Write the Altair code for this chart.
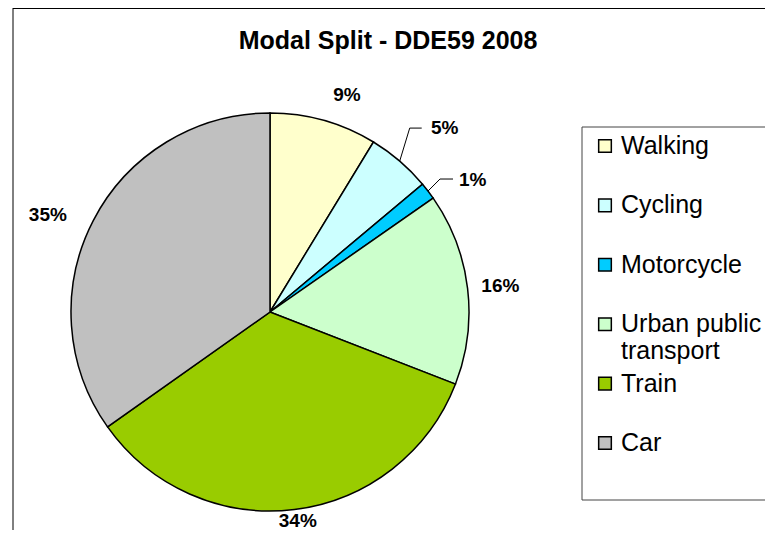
import math
import altair as alt
import pandas as pd

# ---- data ----
categories = ["Walking", "Cycling", "Motorcycle", "Urban public transport", "Train", "Car"]
shares = [8.7, 5.2, 1.4, 15.6, 34.3, 34.8]
colors = ["#FFFFCC", "#CCFFFF", "#00CCFF", "#CCFFCC", "#99CC00", "#C0C0C0"]
legend_line1 = ["Walking", "Cycling", "Motorcycle", "Urban public", "Train", "Car"]
legend_line2 = ["", "", "", "transport", "", ""]
title_text = "Modal Split - DDE59 2008"

# ---- layout ----
W, H = 757, 522
CX, CY, R = 262, 304, 199
FONT = "Liberation Sans"

df = pd.DataFrame({"cat": categories, "share": shares, "order": list(range(len(categories))),
                   "l1": legend_line1, "l2": legend_line2})
df["cum"] = df["share"].cumsum()
df["mid"] = df["cum"] - df["share"] / 2
df["label"] = df["share"].apply(lambda v: f"{int(round(v))}%")

theta_scale = alt.Scale(domain=[0, 100], range=[0, 2 * math.pi])
color_scale = alt.Scale(domain=categories, range=colors)

base = alt.Chart(df)
one = alt.Chart(pd.DataFrame({"a": [0]}))

# outer chart frame: only its left and top edges fall inside the picture
frame_left = one.mark_rule(color="black", strokeWidth=1).encode(
    x=alt.value(5), y=alt.value(0), y2=alt.value(H))
frame_top = one.mark_rule(color="black", strokeWidth=1).encode(
    x=alt.value(5), x2=alt.value(W), y=alt.value(0.5))

# legend box: left, top and bottom edges
LX, LT, LB = 574, 119, 492
legend_fill = one.mark_rect(fill="white", strokeWidth=0).encode(
    x=alt.value(LX), y=alt.value(LT), x2=alt.value(W), y2=alt.value(LB))
box_left = one.mark_rule(color="#444444", strokeWidth=1).encode(
    x=alt.value(LX), y=alt.value(LT), y2=alt.value(LB))
box_top = one.mark_rule(color="#444444", strokeWidth=1).encode(
    x=alt.value(LX), x2=alt.value(W), y=alt.value(LT))
box_bottom = one.mark_rule(color="#444444", strokeWidth=1).encode(
    x=alt.value(LX), x2=alt.value(W), y=alt.value(LB))

pie = base.mark_arc(outerRadius=R, stroke="black", strokeWidth=1.5).encode(
    theta=alt.Theta("share:Q", stack=True, scale=theta_scale),
    order=alt.Order("order:Q"),
    color=alt.Color("cat:N", scale=color_scale, legend=None),
    x=alt.value(CX), y=alt.value(CY),
)

# label placement: radius, dx, dy
label_style = {
    "Walking": (226, 16, 1),
    "Cycling": (245, 15, 2),
    "Motorcycle": (230, 20, 8),
    "Urban public transport": (232, 0, 2),
    "Train": (211, 2, 0),
    "Car": (240, -9, 13),
}
label_layers = []
for c, (r, dx, dy) in label_style.items():
    label_layers.append(
        base.transform_filter(alt.datum.cat == c).mark_text(
            radius=r, dx=dx, dy=dy, fontSize=19, fontWeight="bold", font=FONT,
            align="center", baseline="middle", color="black"
        ).encode(
            theta=alt.Theta("mid:Q", stack=False, scale=theta_scale),
            text="label:N",
            x=alt.value(CX), y=alt.value(CY),
        )
    )

# leader lines for the small slices: elbow offset (ex, ey), horizontal run hx
leader_style = {"Cycling": (10, -33, 12), "Motorcycle": (12, -12, 13)}
rows = []
for c, (ex, ey, hx) in leader_style.items():
    m = float(df.loc[df.cat == c, "mid"].iloc[0]) / 100 * 2 * math.pi
    x0, y0 = CX + R * math.sin(m), CY - R * math.cos(m)
    for k, (px, py) in enumerate([(x0, y0), (x0 + ex, y0 + ey), (x0 + ex + hx, y0 + ey)]):
        rows.append({"cat": c, "k": k, "px": px, "py": py})
leaders = alt.Chart(pd.DataFrame(rows)).mark_line(color="black", strokeWidth=1).encode(
    x=alt.X("px:Q", scale=None, axis=None),
    y=alt.Y("py:Q", scale=None, axis=None),
    detail="cat:N",
    order="k:Q",
)

legend_y = alt.Y("cat:N", sort=categories,
                 scale=alt.Scale(type="point", domain=categories, range=[138, 435], padding=0),
                 axis=None)
leg_sym = base.mark_square(size=160, stroke="black", strokeWidth=1.5, opacity=1).encode(
    x=alt.value(597), y=legend_y,
    color=alt.Color("cat:N", scale=color_scale, legend=None),
)
leg_t1 = base.mark_text(align="left", baseline="middle", fontSize=25, font=FONT,
                        color="black").encode(
    x=alt.value(613), y=legend_y, text="l1:N")
leg_t2 = base.mark_text(align="left", baseline="middle", fontSize=25, font=FONT,
                        dy=27, color="black").encode(
    x=alt.value(613), y=legend_y, text="l2:N")

title = one.mark_text(fontSize=25, fontWeight="bold", font=FONT, align="center",
                      baseline="middle", color="black").encode(
    x=alt.value(380), y=alt.value(33), text=alt.value(title_text))

chart = alt.layer(frame_left, frame_top, legend_fill, box_left, box_top, box_bottom,
                  pie, leaders, *label_layers, leg_sym, leg_t1, leg_t2, title).properties(
    width=W, height=H, padding=0, autosize="none", background="white"
).configure_view(stroke="transparent", strokeWidth=0)

chart.save("out.html", embed_options={"renderer": "svg", "actions": False})
